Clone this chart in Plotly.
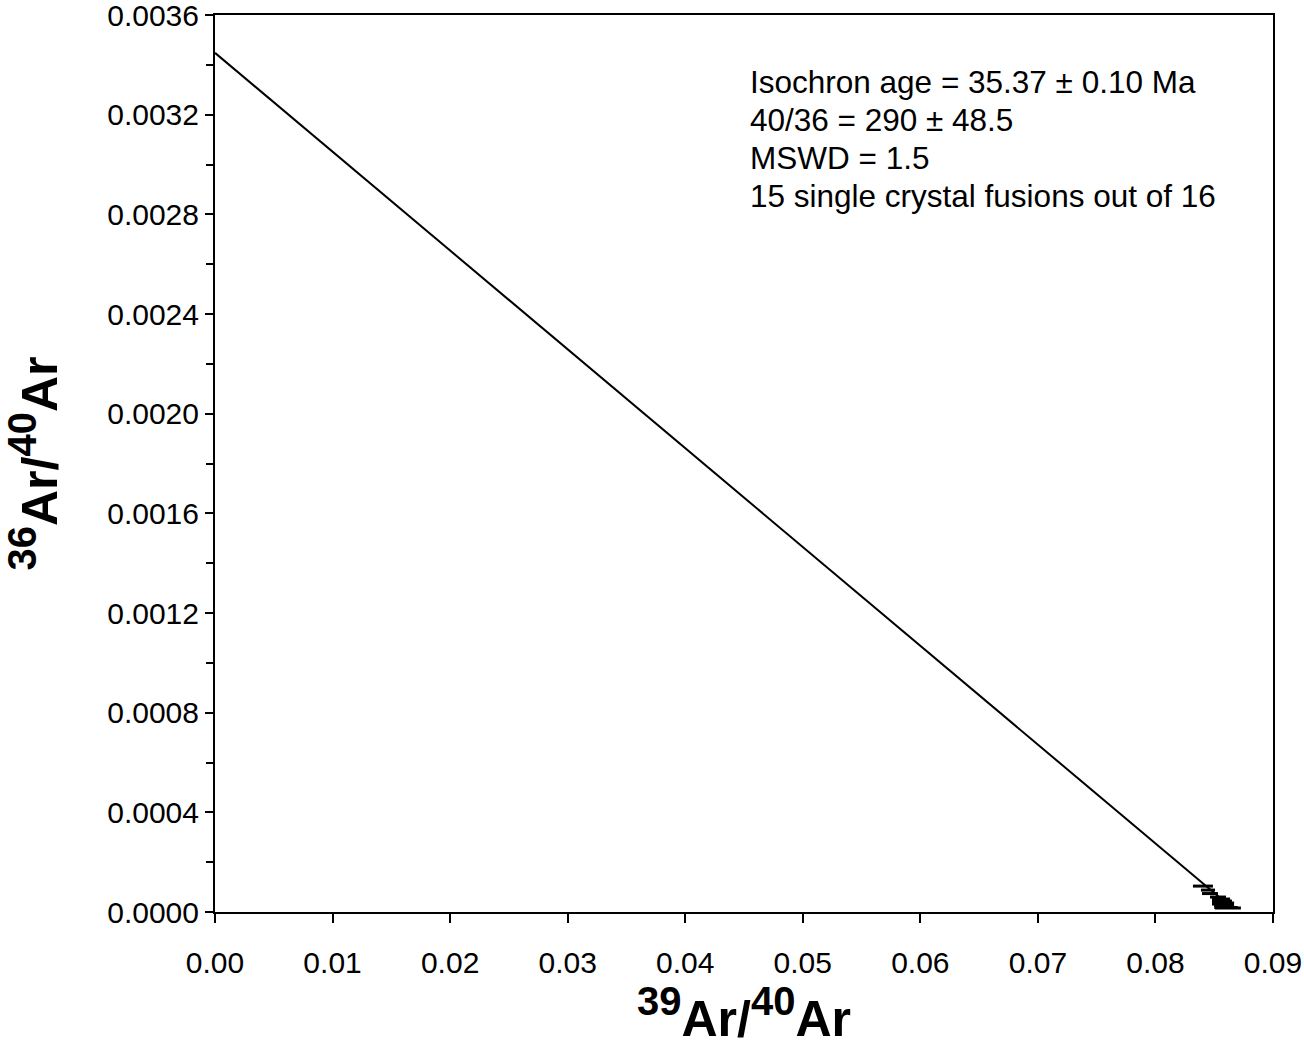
import plotly.graph_objects as go

# Data (39Ar/40Ar vs 36Ar/40Ar)
x_vals = [0.08404, 0.08447, 0.08464, 0.08532, 0.08558, 0.08541, 0.08566, 0.08549,
          0.08575, 0.08558, 0.08583, 0.08566, 0.08592, 0.08600, 0.08617]
y_vals = [1.04e-4, 8.8e-5, 7.4e-5, 6.0e-5, 5.2e-5, 4.8e-5, 4.4e-5, 4.0e-5,
          3.6e-5, 3.2e-5, 2.8e-5, 3.4e-5, 2.4e-5, 1.8e-5, 1.6e-5]
x_err = [0.00085, 0.0006, 0.00068, 0.00068, 0.00077, 0.0006, 0.00085, 0.00068,
         0.00094, 0.00077, 0.00085, 0.0006, 0.00077, 0.0010, 0.0011]
y_err = [3e-6] * 15

# Isochron regression line
intercept = 0.003448
slope = -0.03966
line_x = [0.0, 0.0860]
line_y = [intercept + slope * v for v in line_x]

x_ticks = [0.00, 0.01, 0.02, 0.03, 0.04, 0.05, 0.06, 0.07, 0.08, 0.09]
y_ticks = [0.0000, 0.0004, 0.0008, 0.0012, 0.0016, 0.0020, 0.0024, 0.0028, 0.0032, 0.0036]

annotation_lines = ["Isochron age = 35.37 ± 0.10 Ma", "40/36 = 290 ± 48.5",
                    "MSWD = 1.5", "15 single crystal fusions out of 16"]

FONT = "Liberation Sans, Arial, sans-serif"
W, H = 1304, 1047
ML, MR, MT, MB = 215, 31, 15, 135


def title_html(a, b):
    sup = '<sup><span style="font-size:40px">{}</span></sup>'
    return "<b>" + sup.format(a) + "Ar/" + sup.format(b) + "Ar</b>"


fig = go.Figure()
fig.add_trace(go.Scatter(x=line_x, y=line_y, mode="lines",
                         line=dict(color="black", width=2), showlegend=False,
                         hoverinfo="skip"))
fig.add_trace(go.Scatter(
    x=x_vals, y=y_vals, mode="markers",
    marker=dict(size=1, color="black"),
    error_x=dict(type="data", array=x_err, visible=True, color="black", thickness=3, width=0),
    error_y=dict(type="data", array=y_err, visible=True, color="black", thickness=2, width=0),
    showlegend=False))

plot_h = H - MT - MB
annotations = []
for i, txt in enumerate(annotation_lines):
    y_px = 82 + 38 * i  # line centre, page pixels from top
    annotations.append(dict(
        x=(748 - ML) / (W - ML - MR), y=1 - (y_px - MT) / plot_h,
        xref="paper", yref="paper", xanchor="left", yanchor="middle",
        showarrow=False, text=txt, font=dict(size=31.5, family=FONT)))

fig.update_layout(
    width=W, height=H,
    margin=dict(l=ML, r=MR, t=MT, b=MB, autoexpand=False),
    paper_bgcolor="white", plot_bgcolor="white",
    font=dict(family=FONT, color="black", size=30),
    xaxis=dict(range=[0, 0.09], tickvals=x_ticks,
               ticktext=[f"{v:.2f}" for v in x_ticks],
               showgrid=False, zeroline=False, showline=True, linecolor="black",
               linewidth=2, mirror=True, ticks="outside", ticklen=9, tickwidth=2,
               tickcolor="black", tickfont=dict(size=30, family=FONT),
               ticklabelstandoff=14, ticklabeloverflow="allow",
               automargin=False,
               title=dict(text=title_html("39", "40"),
                          font=dict(size=50, family=FONT), standoff=36)),
    yaxis=dict(range=[0, 0.0036], tickvals=y_ticks,
               ticktext=[f"{v:.4f}" for v in y_ticks],
               showgrid=False, zeroline=False, showline=True, linecolor="black",
               linewidth=2, mirror=True, ticks="outside", ticklen=8, tickwidth=2,
               tickcolor="black", tickfont=dict(size=30, family=FONT),
               ticklabeloverflow="allow",
               automargin=False,
               minor=dict(dtick=0.0002, ticks="outside", ticklen=7, tickwidth=1.5,
                          tickcolor="black", showgrid=False),
               title=dict(text=title_html("36", "40"),
                          font=dict(size=50, family=FONT), standoff=45)),
    annotations=annotations,
)

fig.write_html("out.html", config={"displayModeBar": False},
               post_script="document.body.style.margin='0';document.body.style.overflow='hidden';")
